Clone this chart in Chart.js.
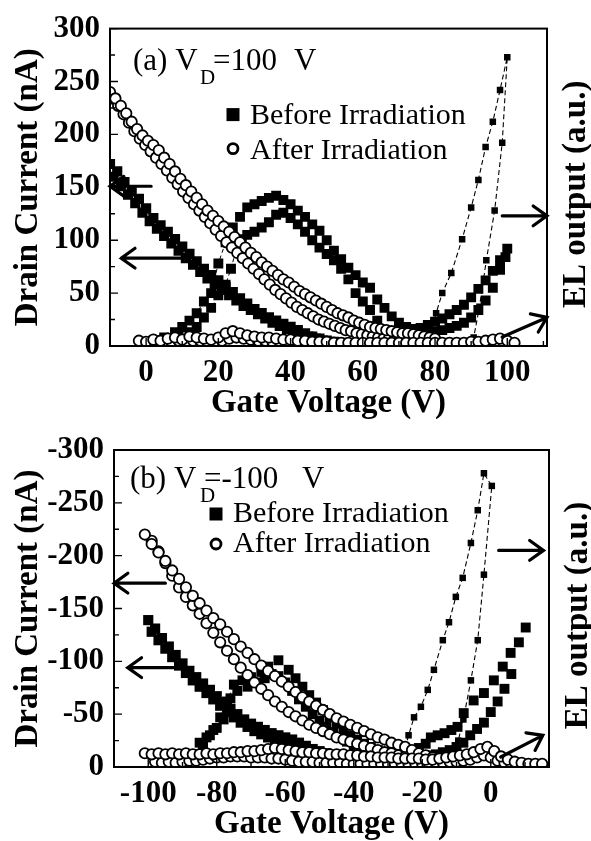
<!DOCTYPE html>
<html>
<head>
<meta charset="utf-8">
<script src="https://cdn.jsdelivr.net/npm/chart.js@4.4.1/dist/chart.umd.min.js"></script>
<style>
  html, body { margin: 0; padding: 0; background: #fff; }
  #wrap { position: relative; width: 591px; height: 841px; }
  canvas { position: absolute; left: 0; }
  #chartA { top: 0; }
  #chartB { top: 420px; }
</style>
</head>
<body>
<div id="wrap">
  <canvas id="chartA" width="591" height="420"></canvas>
  <canvas id="chartB" width="591" height="421"></canvas>
</div>
<script>
// ---- panel (a): V_D = 100 V, [gate V, nA] ----
const aXTicks = [0, 20, 40, 60, 80, 100];
const aYTicks = [0, 50, 100, 150, 200, 250, 300];

const aBeforeDrain1 = [[-10,172],[-8,165],[-6,155],[-4,146],[-2,139],[0,130],[2,121],[4,114],[6,108],[8,101],[10,94],[12,87],[14,80],[16,73],[18,67],[20,62],[22,56],[24,51],[26,45],[28,40],[30,35],[32,31],[34,27],[36,24],[38,21],[40,18],[42,15],[44,12],[46,9],[48,7],[50,5],[52,4],[54,3],[56,2],[58,1],[60,0.5]];
const aBeforeDrain2 = [[-9,160],[-7,151],[-5,143],[-3,135],[-1,126],[1,118],[3,111],[5,104],[7,97],[9,90],[11,83],[13,77],[15,70],[17,64],[19,58],[21,53],[23,48],[25,43],[27,38],[29,34],[31,30],[33,26],[35,22],[37,19],[39,16],[41,13],[43,11],[45,9],[47,7],[49,5],[51,4],[53,3],[55,2],[57,1.5],[59,1],[61,0.5],[63,0.3]];
const aPeak1 = [[-1,3],[2,5],[5,8],[8,13],[10,18],[12,24],[14,31],[16,42],[18,50],[20,78],[22,98],[24,112],[26,122],[28,131],[30,134],[32,137],[34,140],[36,142],[38,138],[40,134],[42,128],[44,122],[46,115],[48,109],[50,100],[52,90],[54,82],[56,74],[58,67],[60,60],[62,55],[64,44],[66,36],[68,28],[70,22],[72,18],[74,16],[76,17],[78,20],[80,23],[82,26],[84,30],[86,34],[88,39],[90,46],[92,54],[94,62],[96,71],[98,81],[100,92]];
const aPeak2 = [[0,2],[3,4],[6,6],[9,9],[12,13],[14,18],[16,27],[18,36],[20,48],[22,58],[23.5,73],[25,92],[26.5,101],[28,105],[30,108],[32,112],[34,117],[36,124],[38,126],[40,121],[42,115],[44,108],[46,100],[48,93],[50,87],[52,81],[54,73],[56,63],[58,50],[60,42],[62,34],[64,24],[66,14],[68,11],[70,10],[72,10],[74,11],[76,12],[78,13],[80,14],[82,15],[84,17],[86,19],[88,22],[90,27],[92,34],[94,43],[96,55],[98,72],[99.5,84]];
const aEL = [[79,12],[80.3,31],[82,50],[84.5,69],[87.5,101],[90,131],[92,157],[94,188],[96,212],[98,242],[100,273],[98.6,192],[96.5,128],[94.2,81],[92.3,37],[90.7,8]];
const aAfterDrain1 = [[-10,240],[-8.5,234],[-7,227],[-5.5,220],[-4,212],[-2.5,205],[-1,199],[0.5,194],[2,190],[3.5,185],[5,178],[6.5,172],[8,165],[9.5,158],[11,152],[12.5,146],[14,140],[15.5,134],[17,128],[18.5,123],[20,118],[21.5,113],[23,108],[24.5,103],[26,98],[27.5,93],[29,88],[30.5,84],[32,79],[33.5,75],[35,71],[36.5,67],[38,63],[39.5,60],[41,56],[42.5,52],[44,49],[45.5,46],[47,43],[48.5,40],[50,37],[51.5,34],[53,31],[54.5,29],[56,27],[57.5,24],[59,22],[60.5,20],[62,18],[63.5,17],[65,16],[66.5,15],[68,14],[69.5,13],[71,12],[72.5,12],[74,11],[75.5,10],[77,9],[78.5,8],[80,7]];
const aAfterDrain2 = [[-9.25,234],[-7.75,227],[-6.25,219],[-4.75,211],[-3.25,203],[-1.75,196],[-0.25,190],[1.25,184],[2.75,178],[4.25,172],[5.75,166],[7.25,159],[8.75,153],[10.25,146],[11.75,140],[13.25,134],[14.75,128],[16.25,122],[17.75,116],[19.25,110],[20.75,104],[22.25,98],[23.75,93],[25.25,88],[26.75,83],[28.25,78],[29.75,73],[31.25,68],[32.75,63],[34.25,58],[35.75,53],[37.25,49],[38.75,45],[40.25,41],[41.75,37],[43.25,34],[44.75,31],[46.25,28],[47.75,25],[49.25,23],[50.75,21],[52.25,19],[53.75,17],[55.25,15],[56.75,14],[58.25,12],[59.75,11],[61.25,10],[62.75,9],[64.25,8],[65.75,7],[67.25,7],[68.75,6],[70.25,6],[71.75,5],[73.25,5],[74.75,4],[76.25,4],[77.75,4],[79.25,4]];
const aAfterEL1 = [[-2,5],[0,4],[2,6],[4,5],[6,7],[8,8],[10,6],[12,9],[14,8],[16,7],[18,6],[20,8],[22,12],[24,14],[26,12],[28,10],[30,9],[32,8],[34,8],[36,7],[38,6],[40,6],[42,5],[44,5],[46,4],[48,4],[50,4],[52,3],[54,3],[56,3],[58,3],[60,3],[62,3],[64,3],[66,3],[68,3],[70,3],[72,3],[74,3],[76,3],[78,3],[80,3],[82,3],[84,3],[86,3],[88,3],[90,4],[92,4],[94,5],[96,6],[98,7],[100,5],[102,3]];
const aAfterEL2 = [[-1,2],[1,3],[3,3],[5,4],[7,4],[9,5],[11,4],[13,5],[15,5],[17,4],[19,4],[21,5],[23,7],[25,8],[27,7],[29,6],[31,5],[33,5],[35,4],[37,4],[39,3],[41,3],[43,3],[45,2],[47,2],[49,2],[51,2],[53,2],[55,2],[57,2],[59,2],[61,2],[63,2],[65,2],[67,2],[69,2],[71,2],[73,2],[75,2],[77,2],[79,2],[81,2],[83,2],[85,2],[87,2],[89,2],[91,2],[93,3],[95,3],[97,4],[99,3],[101,2]];
// arrows: [fromV, fromI, toV, toI]
const aArrows = [[1.4,151,-10,151],[10,83,-6.9,83],[98.6,123,111,123],[98.6,8.5,111,27]];

// ---- panel (b): V_D = -100 V ----
const bXTicks = [-100, -80, -60, -40, -20, 0];
const bYTicks = [0, -50, -100, -150, -200, -250, -300];

const bBeforeDrain1 = [[-100,-139],[-98,-131],[-96,-122],[-94,-114],[-92,-106],[-90,-98],[-88,-91],[-86,-85],[-84,-79],[-82,-73],[-80,-67],[-78,-61],[-76,-55],[-74,-50],[-72,-45],[-70,-41],[-68,-38],[-66,-35],[-64,-32],[-62,-30],[-60,-28],[-58,-26],[-56,-23],[-54,-20],[-52,-17],[-50,-15],[-48,-13],[-46,-11],[-44,-9],[-42,-8],[-40,-6],[-38,-5],[-36,-4],[-34,-3],[-32,-2],[-30,-2]];
const bBeforeDrain2 = [[-99,-128],[-97,-120],[-95,-112],[-93,-104],[-91,-96],[-89,-89],[-87,-82],[-85,-76],[-83,-70],[-81,-64],[-79,-58],[-77,-52],[-75,-47],[-73,-42],[-71,-38],[-69,-34],[-67,-31],[-65,-28],[-63,-26],[-61,-24],[-59,-22],[-57,-20],[-55,-17],[-53,-14],[-51,-12],[-49,-10],[-47,-8],[-45,-7],[-43,-6],[-41,-5],[-39,-4],[-37,-3],[-35,-2],[-33,-2],[-31,-1]];
const bPeak1 = [[-96,-2],[-93,-4],[-90,-7],[-87,-12],[-85,-23],[-83,-28],[-81,-35],[-79,-47],[-77,-62],[-75,-78],[-72.5,-82],[-70,-85],[-67,-90],[-65,-95],[-62,-101],[-59,-92],[-57,-84],[-55,-76],[-53,-68],[-51,-61],[-49,-54],[-47,-47],[-45,-41],[-43,-35],[-41,-30],[-39,-26],[-37,-22],[-35,-19],[-33,-16],[-31,-14],[-29,-12],[-27,-11],[-25,-11],[-23,-13],[-21,-18],[-19,-22],[-17.5,-28],[-15.5,-30],[-13.5,-32],[-11.5,-35],[-9.7,-38],[-7.9,-51],[-5,-63],[-2,-70],[0.9,-82],[3.5,-95],[5.8,-108],[8.2,-118],[10.2,-132]];
const bPeak2 = [[-95,-1],[-92,-3],[-89,-6],[-86,-10],[-84,-20],[-82,-30],[-80,-37],[-78,-45],[-76,-65],[-74,-72],[-71,-76],[-68,-80],[-66,-84],[-64,-88],[-62,-86],[-60,-80],[-58,-72],[-56,-64],[-54,-57],[-52,-50],[-50,-44],[-48,-38],[-46,-33],[-44,-28],[-42,-24],[-40,-20],[-38,-17],[-36,-15],[-34,-13],[-32,-11],[-30,-10],[-28,-9],[-26,-9],[-24,-9],[-22,-9],[-20,-10],[-18,-11],[-16,-12],[-14,-14],[-12,-16],[-10,-19],[-8,-23],[-6,-30],[-4,-36],[-2,-42],[0,-52],[2,-62],[4,-74],[6,-88]];
const bEL = [[-25,-18],[-24,-30],[-22.4,-47],[-20.4,-57],[-18.4,-73],[-16.6,-92],[-14,-120],[-12.2,-137],[-10.2,-161],[-8.2,-179],[-5.8,-212],[-3.8,-243],[-2,-278],[0.3,-266],[-2,-182],[-3.8,-120],[-5.8,-82],[-8,-45],[-9.5,-25]];
const bAfterDrain1 = [[-101,-220],[-99,-211],[-97,-203],[-95,-195],[-93,-186],[-91,-178],[-89,-170],[-87,-162],[-85,-155],[-83,-148],[-81,-141],[-79,-135],[-77,-128],[-75,-121],[-73,-114],[-71,-108],[-69,-102],[-67,-96],[-65,-91],[-63,-86],[-61,-81],[-59,-76],[-57,-71],[-55,-66],[-53,-62],[-51,-58],[-49,-54],[-47,-50],[-45,-46],[-43,-43],[-41,-40],[-39,-37],[-37,-34],[-35,-31],[-33,-28],[-31,-26],[-29,-23],[-27,-21],[-25,-19],[-23,-16],[-21,-13],[-19,-11],[-17,-9],[-15,-7],[-13,-6],[-11,-5]];
const bAfterDrain2 = [[-99,-214],[-97,-204],[-95,-193],[-93,-181],[-91,-170],[-89,-161],[-87,-153],[-85,-145],[-83,-136],[-81,-127],[-79,-118],[-77,-110],[-75,-102],[-73,-94],[-71,-87],[-69,-80],[-67,-74],[-65,-68],[-63,-62],[-61,-57],[-59,-52],[-57,-48],[-55,-44],[-53,-40],[-51,-37],[-49,-34],[-47,-31],[-45,-28],[-43,-26],[-41,-24],[-39,-22],[-37,-20],[-35,-18],[-33,-16],[-31,-14],[-29,-13],[-27,-11],[-25,-10],[-23,-9],[-21,-8],[-19,-7],[-17,-6],[-15,-5],[-13,-4]];
const bAfterEL1 = [[-101,-13],[-99,-12],[-97,-13],[-95,-12],[-93,-13],[-91,-12],[-89,-13],[-87,-12],[-85,-12],[-83,-13],[-81,-12],[-79,-13],[-77,-13],[-75,-14],[-73,-14],[-71,-15],[-69,-15],[-67,-16],[-65,-17],[-63,-18],[-61,-17],[-59,-16],[-57,-15],[-55,-14],[-53,-14],[-51,-13],[-49,-13],[-47,-12],[-45,-12],[-43,-12],[-41,-11],[-39,-11],[-37,-10],[-35,-10],[-33,-9],[-31,-9],[-29,-9],[-27,-8],[-25,-8],[-23,-8],[-21,-8],[-19,-7],[-17,-7],[-15,-8],[-13,-9],[-11,-10],[-9,-11],[-7,-12],[-5,-14],[-3,-17],[-1,-19],[1,-15],[3,-10],[5,-7],[7,-5],[9,-4],[11,-3],[13,-3],[15,-3]];
const bAfterEL2 = [[-98,-5],[-96,-4],[-94,-5],[-92,-4],[-90,-5],[-88,-6],[-86,-6],[-84,-7],[-82,-8],[-80,-9],[-78,-9],[-76,-10],[-74,-10],[-72,-10],[-70,-9],[-68,-9],[-66,-9],[-64,-8],[-62,-8],[-60,-7],[-58,-6],[-56,-5],[-54,-5],[-52,-5],[-50,-4],[-48,-4],[-46,-4],[-44,-4],[-42,-3],[-40,-3],[-38,-3],[-36,-3],[-34,-3],[-32,-3],[-30,-3],[-28,-3],[-26,-3],[-24,-3],[-22,-3],[-20,-3],[-18,-3],[-16,-4],[-14,-4],[-12,-5],[-10,-5],[-8,-6],[-6,-7],[-4,-9],[-2,-11],[0,-9],[2,-6],[4,-4],[6,-3],[8,-2],[10,-2],[12,-2],[14,-2]];
const bArrows = [[-95,-174,-110,-174],[-91,-94,-106,-94],[2.3,-205,15.4,-205],[2.9,-9.5,15.2,-30]];

const SERIF = "'Liberation Serif', 'Times New Roman', serif";
const xy = pts => pts.map(p => ({ x: p[0], y: p[1] }));

function squares(pts, r, dash) {
  const ds = {
    data: xy(pts), pointStyle: 'rect', pointRadius: r,
    pointBackgroundColor: '#000', pointBorderColor: '#000', pointBorderWidth: 0,
    showLine: false
  };
  if (dash) {
    ds.showLine = true;
    ds.borderColor = '#000';
    ds.borderWidth = 1;
    ds.borderDash = [4, 3];
    ds.segment = {
      borderColor: c => (c.p0.parsed.x >= dash[0] && c.p1.parsed.x <= dash[1]) ? '#000' : 'rgba(0,0,0,0)'
    };
  }
  return ds;
}

function dashedLine(pts) {
  return {
    data: xy(pts), pointStyle: 'rect', pointRadius: 4.6,
    pointBackgroundColor: '#000', pointBorderColor: '#000', pointBorderWidth: 0,
    showLine: true, borderColor: '#000', borderWidth: 1.1, borderDash: [5, 3]
  };
}

function circles(pts) {
  return {
    data: xy(pts), pointStyle: 'circle', pointRadius: 5.2,
    pointBackgroundColor: '#fff', pointBorderColor: '#000', pointBorderWidth: 1.8,
    showLine: false
  };
}

function arrow(ctx, x0, y0, x1, y1) {
  const ang = Math.atan2(y1 - y0, x1 - x0), L = 17, w = 0.62;
  ctx.beginPath();
  ctx.moveTo(x0, y0); ctx.lineTo(x1, y1);
  ctx.moveTo(x1 - L * Math.cos(ang - w), y1 - L * Math.sin(ang - w));
  ctx.lineTo(x1, y1);
  ctx.lineTo(x1 - L * Math.cos(ang + w), y1 - L * Math.sin(ang + w));
  ctx.stroke();
}

function overlay(cfg) {
  return {
    id: 'overlay',
    afterDatasetsDraw(chart) {
      const { ctx, chartArea: a, scales: { x, y } } = chart;
      ctx.save();
      ctx.strokeStyle = '#000';
      ctx.fillStyle = '#000';
      // frame
      ctx.lineWidth = 2;
      ctx.strokeRect(a.left, a.top, a.right - a.left, a.bottom - a.top);
      // inward ticks
      ctx.lineWidth = 1.4;
      ctx.beginPath();
      for (let v = Math.ceil(x.min / 10) * 10; v <= x.max; v += 10) {
        const px = x.getPixelForValue(v);
        ctx.moveTo(px, a.bottom);
        ctx.lineTo(px, a.bottom - (v % 20 === 0 ? 8 : 5));
      }
      for (let v = Math.ceil(y.min / 25) * 25; v <= y.max; v += 25) {
        const py = y.getPixelForValue(v);
        ctx.moveTo(a.left, py);
        ctx.lineTo(a.left + (v % 50 === 0 ? 8 : 5), py);
      }
      ctx.stroke();
      // arrows
      ctx.lineWidth = 3.2;
      ctx.lineCap = 'round';
      cfg.arrows.forEach(r => arrow(ctx,
        x.getPixelForValue(r[0]), y.getPixelForValue(r[1]),
        x.getPixelForValue(r[2]), y.getPixelForValue(r[3])));
      // panel header: (a) V_D=100 V
      ctx.textAlign = 'left';
      ctx.textBaseline = 'alphabetic';
      ctx.font = `31px ${SERIF}`;
      ctx.fillText(cfg.tag, a.left + cfg.tagX, a.top + cfg.baseY);
      ctx.fillText(cfg.rest, a.left + cfg.restX, a.top + cfg.baseY);
      ctx.fillText('V', a.left + cfg.unitX, a.top + cfg.baseY);
      ctx.font = `21px ${SERIF}`;
      ctx.fillText('D', a.left + cfg.subX, a.top + cfg.subY);
      // legend
      ctx.font = `30px ${SERIF}`;
      ctx.fillRect(a.left + cfg.legX - 6.5, a.top + cfg.legSqY - 6.5, 13, 13);
      ctx.lineWidth = 2.8;
      ctx.beginPath();
      ctx.arc(a.left + cfg.legX, a.top + cfg.legCiY, 5, 0, Math.PI * 2);
      ctx.stroke();
      ctx.fillText('Before Irradiation', a.left + cfg.legTextX, a.top + cfg.legB1);
      ctx.fillText('After Irradiation', a.left + cfg.legTextX, a.top + cfg.legB2);
      // right axis title
      ctx.font = `bold 33px ${SERIF}`;
      ctx.textAlign = 'center';
      ctx.textBaseline = 'middle';
      ctx.translate(a.right + 29, (a.top + a.bottom) / 2 + 7);
      ctx.rotate(-Math.PI / 2);
      ctx.fillText('EL output (a.u.)', 0, 0);
      ctx.restore();
    }
  };
}

function makePanel(id, p) {
  const tickFont = { family: SERIF, weight: 'bold', size: 31 };
  const titleFont = { family: SERIF, weight: 'bold', size: 33, lineHeight: 1 };
  return new Chart(document.getElementById(id), {
    type: 'scatter',
    data: { datasets: p.datasets },
    options: {
      responsive: false,
      animation: false,
      devicePixelRatio: 1,
      events: [],
      layout: { padding: { top: p.top, bottom: 0, left: 0, right: 0 } },
      plugins: { legend: { display: false }, tooltip: { enabled: false } },
      scales: {
        x: {
          type: 'linear', position: 'bottom', min: p.xMin, max: p.xMax,
          afterBuildTicks: s => { s.ticks = p.xTicks.map(v => ({ value: v })); },
          afterFit: s => { s.height = p.xHeight; },
          grid: { display: false, drawTicks: false },
          border: { display: false },
          ticks: { font: tickFont, color: '#000', padding: 8, maxRotation: 0, autoSkip: false },
          title: { display: true, text: 'Gate Voltage (V)', font: titleFont, color: '#000', padding: 0 }
        },
        y: {
          type: 'linear', position: 'left', min: p.yMin, max: p.yMax, reverse: p.reverse,
          afterBuildTicks: s => { s.ticks = p.yTicks.map(v => ({ value: v })); },
          afterFit: s => { s.width = p.yWidth; },
          grid: { display: false, drawTicks: false },
          border: { display: false },
          ticks: { font: tickFont, color: '#000', padding: 10, autoSkip: false },
          title: { display: true, text: 'Drain Current (nA)', font: titleFont, color: '#000', padding: { top: 12, bottom: 0 } }
        },
        y2: {
          type: 'linear', position: 'right', min: 0, max: 1,
          afterFit: s => { s.width = p.rightWidth; },
          grid: { display: false, drawTicks: false },
          border: { display: false },
          ticks: { display: false }
        }
      }
    },
    plugins: [overlay(p.overlay)]
  });
}

makePanel('chartA', {
  top: 27, xHeight: 74, yWidth: 110, rightWidth: 44,
  xMin: -10, xMax: 111, yMin: 0, yMax: 300, reverse: false,
  xTicks: aXTicks, yTicks: aYTicks,
  datasets: [
    circles(aAfterEL1), circles(aAfterEL2),
    circles(aAfterDrain1), circles(aAfterDrain2),
    dashedLine(aEL),
    squares(aPeak1, 7, [11, 27]), squares(aPeak2, 7, [15, 29]),
    squares(aBeforeDrain1, 7.2), squares(aBeforeDrain2, 7.2)
  ],
  overlay: {
    arrows: aArrows,
    tag: '(a) V', rest: '=100', tagX: 23, baseY: 41, subX: 90, subY: 55, restX: 103, unitX: 184,
    legX: 123, legSqY: 86, legCiY: 120, legTextX: 140, legB1: 95, legB2: 130
  }
});

makePanel('chartB', {
  top: 30, xHeight: 74, yWidth: 114, rightWidth: 42,
  xMin: -110, xMax: 17, yMin: -300, yMax: 0, reverse: true,
  xTicks: bXTicks, yTicks: bYTicks,
  datasets: [
    circles(bAfterEL1), circles(bAfterEL2),
    circles(bAfterDrain1), circles(bAfterDrain2),
    dashedLine(bEL),
    squares(bPeak1, 7, [-86, -74]), squares(bPeak2, 7, [-85, -75]),
    squares(bBeforeDrain1, 7.2), squares(bBeforeDrain2, 7.2)
  ],
  overlay: {
    arrows: bArrows,
    tag: '(b) V', rest: '=-100', tagX: 16, baseY: 38, subX: 86, subY: 52, restX: 90, unitX: 188,
    legX: 102, legSqY: 64, legCiY: 94, legTextX: 119, legB1: 72, legB2: 102
  }
});
</script>
</body>
</html>
